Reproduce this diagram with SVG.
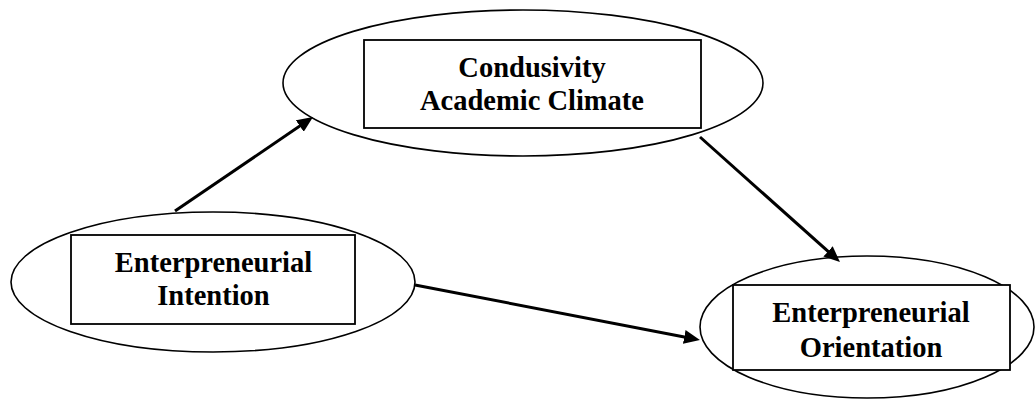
<svg xmlns="http://www.w3.org/2000/svg" width="1036" height="402" viewBox="0 0 1036 402">
<style>
.ell{fill:#fff;stroke:#000;stroke-width:1.6}
.box{fill:#fff;stroke:#000;stroke-width:1.8}
.lbl{font-family:"Liberation Serif","Times New Roman",serif;font-weight:bold;font-size:28.5px;text-anchor:middle;fill:#000}
.conn{stroke:#000;stroke-width:3;fill:none;marker-end:url(#ah)}
</style>
<defs>
<marker id="ah" markerUnits="userSpaceOnUse" markerWidth="17" markerHeight="14" refX="8" refY="7" orient="auto">
<path d="M0,0 L16,7 L0,14 z" fill="#000"/>
</marker>
</defs>
<rect width="1036" height="402" fill="#fff"/>
<g id="node-climate">
<ellipse class="ell" cx="523" cy="83" rx="240" ry="73"/>
<rect class="box" x="364" y="40" width="337" height="88"/>
<text class="lbl" x="532" y="77">Condusivity</text>
<text class="lbl" x="532" y="110">Academic Climate</text>
</g>
<g id="node-intention">
<ellipse class="ell" cx="213" cy="282" rx="202" ry="70"/>
<rect class="box" x="71" y="235" width="284" height="89"/>
<text class="lbl" x="213.5" y="272">Enterpreneurial</text>
<text class="lbl" x="213.5" y="305">Intention</text>
</g>
<g id="node-orientation">
<ellipse class="ell" cx="867" cy="327" rx="167" ry="71"/>
<rect class="box" x="733" y="285" width="277" height="85"/>
<text class="lbl" x="871" y="322">Enterpreneurial</text>
<text class="lbl" x="871" y="357">Orientation</text>
</g>
<g id="connectors">
<line class="conn" x1="175" y1="211" x2="306.4" y2="121.5"/>
<line class="conn" x1="700" y1="137" x2="834" y2="256.7"/>
<line class="conn" x1="415" y1="285" x2="692.1" y2="338.5"/>
</g>
</svg>
